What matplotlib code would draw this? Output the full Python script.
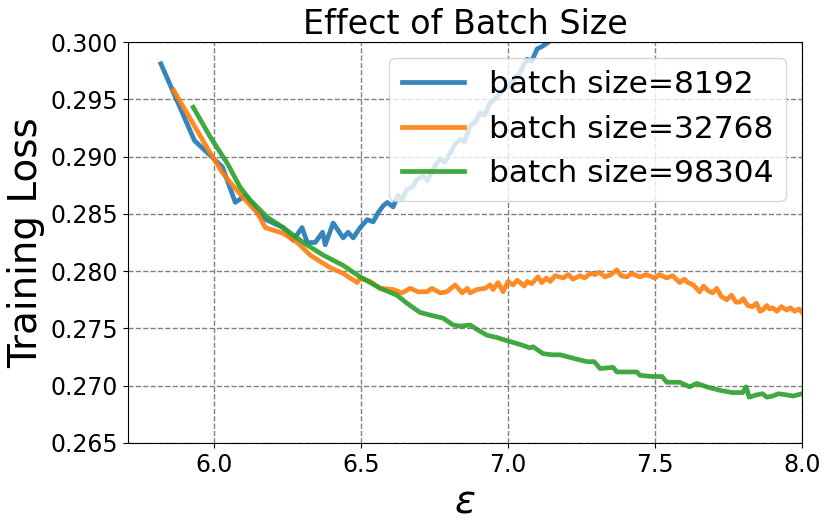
import numpy as np
from matplotlib import pyplot as plt

# (epsilon, training loss)
loss_8192 = np.array([
    (5.819, 0.2981), (5.933, 0.2914), (6.028, 0.2891), (6.072, 0.2860), (6.106, 0.2866),
    (6.167, 0.2846), (6.235, 0.2838), (6.269, 0.2827), (6.299, 0.2838), (6.317, 0.2825),
    (6.344, 0.2825), (6.369, 0.2834), (6.378, 0.2823), (6.405, 0.2842), (6.439, 0.2829),
    (6.456, 0.2834), (6.473, 0.2829), (6.497, 0.2838), (6.521, 0.2845), (6.541, 0.2843),
    (6.558, 0.2851), (6.575, 0.2857), (6.589, 0.2860), (6.609, 0.2856), (6.625, 0.2866),
    (6.640, 0.2863), (6.655, 0.2871), (6.677, 0.2874), (6.690, 0.2880), (6.711, 0.2883),
    (6.725, 0.2879), (6.745, 0.2889), (6.757, 0.2894), (6.769, 0.2898), (6.785, 0.2895),
    (6.803, 0.2903), (6.820, 0.2911), (6.837, 0.2915), (6.852, 0.2913), (6.871, 0.2927),
    (6.888, 0.2930), (6.905, 0.2938), (6.920, 0.2936), (6.939, 0.2947), (6.955, 0.2950),
    (6.973, 0.2955), (6.990, 0.2960), (7.007, 0.2962), (7.025, 0.2969), (7.041, 0.2973),
    (7.053, 0.2980), (7.065, 0.2985), (7.080, 0.2983), (7.099, 0.2994), (7.115, 0.2996),
    (7.133, 0.2999), (7.150, 0.3003), (7.177, 0.3003), (7.200, 0.3008),
])

loss_32768 = np.array([
    (5.862, 0.2958), (5.987, 0.2903), (6.028, 0.2886), (6.056, 0.2877), (6.099, 0.2864),
    (6.147, 0.2851), (6.174, 0.2838), (6.235, 0.2833), (6.283, 0.2825), (6.327, 0.2814),
    (6.351, 0.2810), (6.395, 0.2803), (6.439, 0.2798), (6.487, 0.2790), (6.497, 0.2794),
    (6.531, 0.2791), (6.565, 0.2785), (6.609, 0.2784), (6.639, 0.2781), (6.667, 0.2785),
    (6.694, 0.2782), (6.724, 0.2782), (6.741, 0.2785), (6.769, 0.2781), (6.792, 0.2782),
    (6.820, 0.2788), (6.844, 0.2781), (6.861, 0.2785), (6.871, 0.2781), (6.895, 0.2784),
    (6.922, 0.2785), (6.939, 0.2788), (6.949, 0.2784), (6.966, 0.2790), (6.983, 0.2782),
    (7.000, 0.2791), (7.017, 0.2788), (7.031, 0.2792), (7.041, 0.2790), (7.055, 0.2787),
    (7.065, 0.2791), (7.080, 0.2789), (7.102, 0.2795), (7.115, 0.2790), (7.130, 0.2794),
    (7.143, 0.2791), (7.160, 0.2796), (7.187, 0.2794), (7.205, 0.2797), (7.220, 0.2793),
    (7.245, 0.2796), (7.260, 0.2794), (7.280, 0.2798), (7.296, 0.2797), (7.310, 0.2799),
    (7.330, 0.2795), (7.350, 0.2797), (7.370, 0.2801), (7.385, 0.2796), (7.404, 0.2795),
    (7.420, 0.2798), (7.449, 0.2795), (7.470, 0.2797), (7.499, 0.2794), (7.515, 0.2797),
    (7.540, 0.2794), (7.560, 0.2796), (7.584, 0.2790), (7.600, 0.2793), (7.612, 0.2790),
    (7.630, 0.2788), (7.652, 0.2782), (7.665, 0.2787), (7.680, 0.2783), (7.696, 0.2781),
    (7.710, 0.2785), (7.725, 0.2778), (7.744, 0.2775), (7.760, 0.2779), (7.775, 0.2773),
    (7.788, 0.2773), (7.800, 0.2776), (7.815, 0.2770), (7.832, 0.2769), (7.845, 0.2772),
    (7.857, 0.2765), (7.866, 0.2766), (7.880, 0.2770), (7.890, 0.2767), (7.900, 0.2768),
    (7.915, 0.2765), (7.930, 0.2769), (7.948, 0.2766), (7.960, 0.2768), (7.975, 0.2765),
    (7.990, 0.2767), (8.000, 0.2764),
])

loss_98304 = np.array([
    (5.929, 0.2943), (5.987, 0.2917), (6.045, 0.2894), (6.089, 0.2873), (6.123, 0.2862),
    (6.181, 0.2847), (6.235, 0.2838), (6.303, 0.2825), (6.371, 0.2814), (6.439, 0.2805),
    (6.497, 0.2795), (6.565, 0.2785), (6.622, 0.2779), (6.656, 0.2772), (6.700, 0.2764),
    (6.745, 0.2761), (6.779, 0.2759), (6.813, 0.2753), (6.837, 0.2752), (6.871, 0.2753),
    (6.895, 0.2749), (6.929, 0.2744), (6.963, 0.2742), (7.000, 0.2739), (7.041, 0.2736),
    (7.075, 0.2733), (7.085, 0.2734), (7.119, 0.2728), (7.150, 0.2727), (7.177, 0.2727),
    (7.221, 0.2724), (7.269, 0.2721), (7.293, 0.2721), (7.303, 0.2718), (7.313, 0.2715),
    (7.357, 0.2716), (7.370, 0.2712), (7.404, 0.2712), (7.438, 0.2712), (7.449, 0.2709),
    (7.493, 0.2708), (7.524, 0.2708), (7.540, 0.2703), (7.584, 0.2703), (7.618, 0.2699),
    (7.642, 0.2702), (7.676, 0.2699), (7.720, 0.2696), (7.764, 0.2694), (7.798, 0.2694),
    (7.810, 0.2699), (7.820, 0.2690), (7.845, 0.2692), (7.866, 0.2693), (7.880, 0.2690),
    (7.900, 0.2691), (7.920, 0.2693), (7.948, 0.2692), (7.970, 0.2691), (8.000, 0.2693),
])

labels = ['batch size=8192', 'batch size=32768', 'batch size=98304']
x_ticks = [6.0, 6.5, 7.0, 7.5, 8.0]
y_ticks = [0.265, 0.270, 0.275, 0.280, 0.285, 0.290, 0.295, 0.300]

fig = plt.figure(figsize=(8.3, 5.26), dpi=100)
ax = fig.add_subplot()
fig.subplots_adjust(left=128 / 830, right=802 / 830, top=1 - 42 / 526, bottom=1 - 443 / 526)

for data, label in zip([loss_8192, loss_32768, loss_98304], labels):
    ax.plot(data[:, 0], data[:, 1], lw=3.4, alpha=0.9, label=label)

ax.set_xlim(5.707, 8.0)
ax.set_ylim(0.265, 0.300)
ax.set_xticks(x_ticks)
ax.set_yticks(y_ticks)
ax.set_yticklabels([f'{v:.3f}' for v in y_ticks])
ax.tick_params(labelsize=17)
ax.grid(True, linestyle='--', color='gray', lw=1)

ax.set_title('Effect of Batch Size', fontsize=24)
ax.set_xlabel(r'$\epsilon$', fontsize=28)
ax.set_ylabel('Training Loss', fontsize=28)
ax.legend(loc='upper right', fontsize=22.5)

fig.savefig('out.png', dpi=100)
